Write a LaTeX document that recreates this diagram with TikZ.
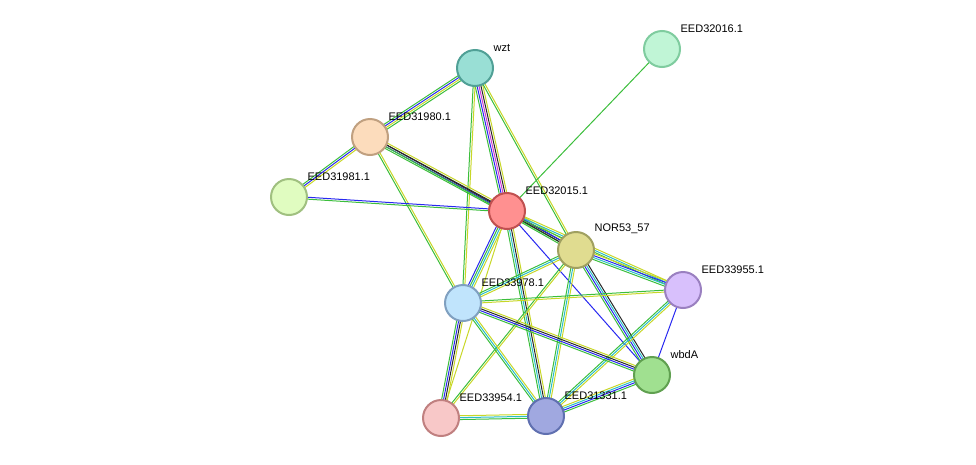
\documentclass[tikz,border=0pt]{standalone}
\usepackage{fontspec}
\setmainfont{Liberation Sans}
\usetikzlibrary{calc,backgrounds}
\definecolor{cGreen}{RGB}{60,190,60}
\definecolor{cYel}{RGB}{200,215,40}
\definecolor{cCyan}{RGB}{40,190,200}
\definecolor{cBlue}{RGB}{40,40,240}
\definecolor{cMag}{RGB}{210,60,210}
\definecolor{cBlk}{RGB}{40,40,40}
% multi-coloured edge: \stredge{from}{to}{colour list}
\newcommand\stredge[3]{%
  \foreach \c [count=\n] in {#3} {\xdef\ncol{\n}}
  \foreach \c [count=\i] in {#3} {
    \pgfmathsetmacro\off{(\i-(\ncol+1)/2)*1.9}
    \draw[\c, line width=1pt] ($(#1)!\off pt!90:(#2)$) -- ($(#2)!\off pt!-90:(#1)$);
  }
}
\begin{document}
\begin{tikzpicture}[x=1pt, y=-1pt]
  \tikzset{
    prot/.style={circle, minimum size=36pt, inner sep=0pt, line width=2pt},
    lbl/.style={font=\fontsize{11}{13}\selectfont, inner sep=1pt, xshift=4pt, yshift=2pt}
  }
  \useasboundingbox (0,0) rectangle (976,464);

  \node[prot, fill={rgb,255:red,153;green,223;blue,213}, draw={rgb,255:red,80;green,160;blue,150}, label={[lbl]45:wzt}] (wzt) at (475,68) {};
  \node[prot, fill={rgb,255:red,192;green,245;blue,214}, draw={rgb,255:red,127;green,204;blue,159}, label={[lbl]45:EED32016.1}] (e32016) at (662,49) {};
  \node[prot, fill={rgb,255:red,252;green,220;blue,188}, draw={rgb,255:red,192;green,160;blue,128}, label={[lbl]45:EED31980.1}] (e31980) at (370,137) {};
  \node[prot, fill={rgb,255:red,224;green,252;blue,192}, draw={rgb,255:red,160;green,192;blue,128}, label={[lbl]45:EED31981.1}] (e31981) at (289,197) {};
  \node[prot, fill={rgb,255:red,255;green,144;blue,144}, draw={rgb,255:red,192;green,80;blue,80}, label={[lbl]45:EED32015.1}] (e32015) at (507,211) {};
  \node[prot, fill={rgb,255:red,224;green,220;blue,144}, draw={rgb,255:red,160;green,160;blue,96}, label={[lbl]45:NOR53\_57}] (nor) at (576,250) {};
  \node[prot, fill={rgb,255:red,216;green,192;blue,252}, draw={rgb,255:red,154;green,128;blue,192}, label={[lbl]45:EED33955.1}] (e33955) at (683,290) {};
  \node[prot, fill={rgb,255:red,192;green,228;blue,252}, draw={rgb,255:red,128;green,160;blue,192}, label={[lbl]45:EED33978.1}] (e33978) at (463,303) {};
  \node[prot, fill={rgb,255:red,160;green,224;blue,144}, draw={rgb,255:red,96;green,160;blue,80}, label={[lbl]45:wbdA}] (wbda) at (652,375) {};
  \node[prot, fill={rgb,255:red,248;green,200;blue,200}, draw={rgb,255:red,192;green,128;blue,128}, label={[lbl]45:EED33954.1}] (e33954) at (441,418) {};
  \node[prot, fill={rgb,255:red,160;green,168;blue,224}, draw={rgb,255:red,96;green,112;blue,176}, label={[lbl]45:EED31331.1}] (e31331) at (546,416) {};

  \begin{pgfonlayer}{background}
    \stredge{wzt}{e31980}{cGreen,cBlue,cYel,cGreen}
    \stredge{wzt}{e32015}{cGreen,cBlue,cMag,cBlk,cYel}
    \stredge{wzt}{nor}{cGreen,cYel}
    \stredge{wzt}{e33978}{cGreen,cYel}
    \stredge{e32016}{e32015}{cGreen}
    \stredge{e31980}{e31981}{cGreen,cBlue,cYel}
    \stredge{e31980}{e32015}{cGreen,cBlue,cBlk,cYel}
    \stredge{e31980}{nor}{cGreen,cBlk}
    \stredge{e31980}{e33978}{cGreen,cYel}
    \stredge{e31981}{e32015}{cGreen,cBlue}
    \stredge{e32015}{nor}{cGreen,cBlk,cBlue,cYel}
    \stredge{e32015}{e33955}{cGreen,cCyan,cYel}
    \stredge{e32015}{e33978}{cBlue,cGreen,cCyan,cYel}
    \stredge{e32015}{wbda}{cBlue}
    \stredge{e32015}{e31331}{cGreen,cCyan,cBlk,cYel}
    \stredge{e32015}{e33954}{cYel}
    \stredge{nor}{e33955}{cGreen,cCyan,cBlue,cYel}
    \stredge{nor}{e33978}{cGreen,cCyan,cYel}
    \stredge{nor}{wbda}{cGreen,cBlue,cCyan,cBlk}
    \stredge{nor}{e31331}{cGreen,cCyan,cYel}
    \stredge{nor}{e33954}{cGreen,cYel}
    \stredge{e33955}{e33978}{cGreen,cYel}
    \stredge{e33955}{wbda}{cBlue}
    \stredge{e33955}{e31331}{cGreen,cCyan,cYel}
    \stredge{e33978}{wbda}{cGreen,cBlue,cBlk,cYel}
    \stredge{e33978}{e31331}{cGreen,cCyan,cYel}
    \stredge{e33978}{e33954}{cGreen,cBlue,cBlk,cYel}
    \stredge{e33954}{e31331}{cGreen,cCyan,cYel}
    \stredge{e31331}{wbda}{cGreen,cBlue,cCyan,cYel}
  \end{pgfonlayer}
\end{tikzpicture}
\end{document}
